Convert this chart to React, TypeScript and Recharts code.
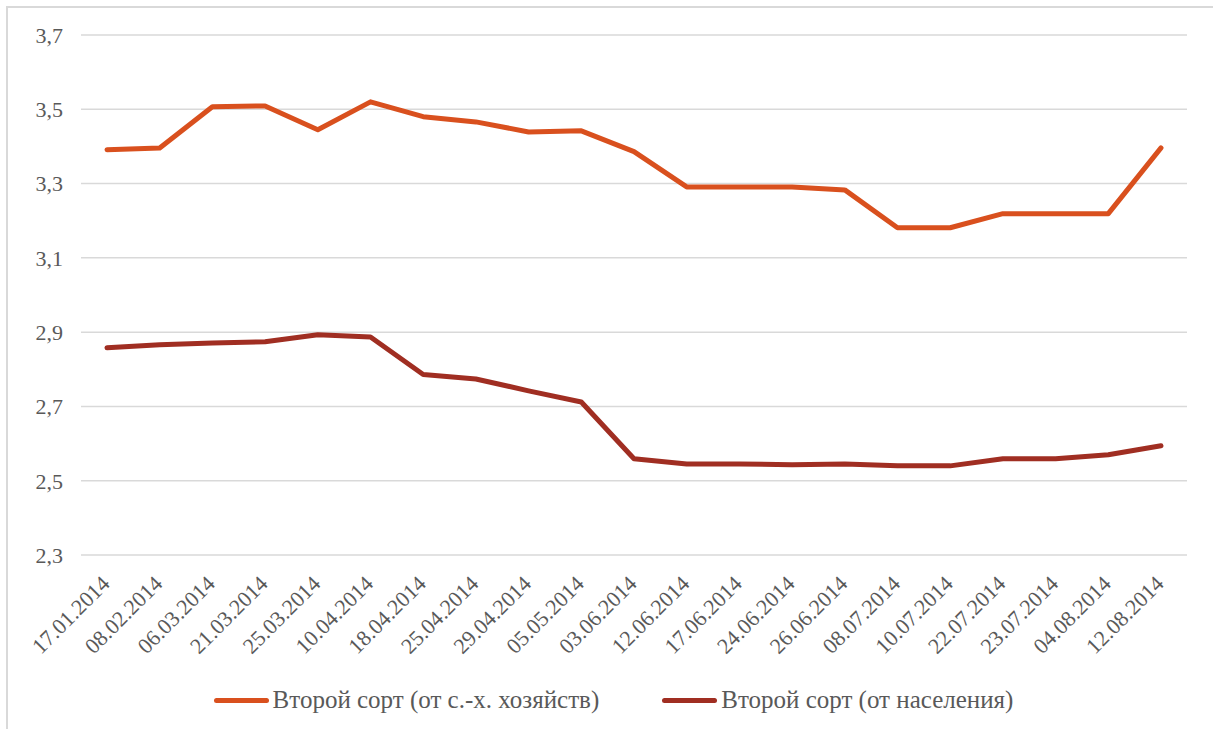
import React from 'react';
import { LineChart, Line, XAxis, YAxis, CartesianGrid, Legend } from 'recharts';

const dates = ['17.01.2014','08.02.2014','06.03.2014','21.03.2014','25.03.2014','10.04.2014','18.04.2014','25.04.2014','29.04.2014','05.05.2014','03.06.2014','12.06.2014','17.06.2014','24.06.2014','26.06.2014','08.07.2014','10.07.2014','22.07.2014','23.07.2014','04.08.2014','12.08.2014'];
const farms = [3.391,3.396,3.507,3.509,3.445,3.52,3.48,3.466,3.439,3.442,3.386,3.291,3.291,3.291,3.283,3.181,3.181,3.219,3.219,3.219,3.396];
const population = [2.858,2.866,2.871,2.874,2.893,2.887,2.786,2.774,2.742,2.712,2.559,2.545,2.545,2.543,2.545,2.54,2.54,2.559,2.559,2.57,2.594];
const yTicks = [2.3,2.5,2.7,2.9,3.1,3.3,3.5,3.7];
const seriesKeys = ['farms', 'population'];
const seriesNames = ['Второй сорт (от с.-х. хозяйств)', 'Второй сорт (от населения)'];

const data = dates.map((d, i) => ({ date: d, farms: farms[i], population: population[i] }));

const FONT = '"Liberation Serif", serif';
const TEXT = '#595959';

const css = `
#chartbox, #chartbox *, #chartbox .recharts-wrapper text, #chartbox .recharts-wrapper tspan, #chartbox .recharts-legend-wrapper * {
  font-family: "Liberation Serif", serif !important;
}
`;

const XTick = (props: any) => {
  const { x, y, payload } = props;
  const ax = x + 4;
  const ay = y + 22;
  return (
    <text x={ax} y={ay} transform={`rotate(-45, ${ax}, ${ay})`} textAnchor="end" fill={TEXT} style={{ fontSize: 22, fontFamily: FONT }}>
      {payload.value}
    </text>
  );
};

const LegendContent = (props: any) => {
  const payload = [...(props.payload || [])].sort((a: any, b: any) => seriesKeys.indexOf(a.dataKey) - seriesKeys.indexOf(b.dataKey));
  return (
    <div style={{ height: 40, display: 'flex', justifyContent: 'center', alignItems: 'center', gap: 63, paddingLeft: 40, fontFamily: FONT, fontSize: 25, color: TEXT }}>
      {payload.map((p: any) => (
        <div key={p.value} style={{ display: 'flex', alignItems: 'center' }}>
          <div style={{ width: 55, height: 5, background: p.color, borderRadius: 3, marginRight: 4 }} />
          <span>{p.value}</span>
        </div>
      ))}
    </div>
  );
};

export default function App() {
  return (
    <div id="chartbox" style={{ position: 'absolute', left: 0, top: 0, width: 1213, height: 729, background: '#fff' }}>
      <style>{css}</style>
      <div style={{ position: 'absolute', left: 6, top: 6, right: 0, bottom: 0, borderTop: '2px solid #D9D9D9', borderLeft: '2px solid #D9D9D9' }} />
      <LineChart width={1213} height={729} data={data} margin={{ top: 35, right: 26, bottom: 0, left: 0 }}>
        <CartesianGrid vertical={false} stroke="#D9D9D9" strokeWidth={1.5} />
        <XAxis dataKey="date" axisLine={false} tickLine={false} interval={0} height={134} padding={{ left: 26, right: 26 }} tick={<XTick />} />
        <YAxis domain={[2.3, 3.7]} ticks={yTicks} width={81} axisLine={false} tickLine={false} tickMargin={12}
          tick={{ fill: TEXT, fontSize: 22, fontFamily: FONT }} tickFormatter={(v: number) => v.toFixed(1).replace('.', ',')} />
        <Legend verticalAlign="bottom" content={<LegendContent />} wrapperStyle={{ bottom: 9 }} />
        <Line type="linear" dataKey="farms" name={seriesNames[0]} stroke="#D9501E" strokeWidth={5} dot={false} isAnimationActive={false} strokeLinejoin="round" strokeLinecap="round" />
        <Line type="linear" dataKey="population" name={seriesNames[1]} stroke="#A02E22" strokeWidth={5} dot={false} isAnimationActive={false} strokeLinejoin="round" strokeLinecap="round" />
      </LineChart>
    </div>
  );
}
